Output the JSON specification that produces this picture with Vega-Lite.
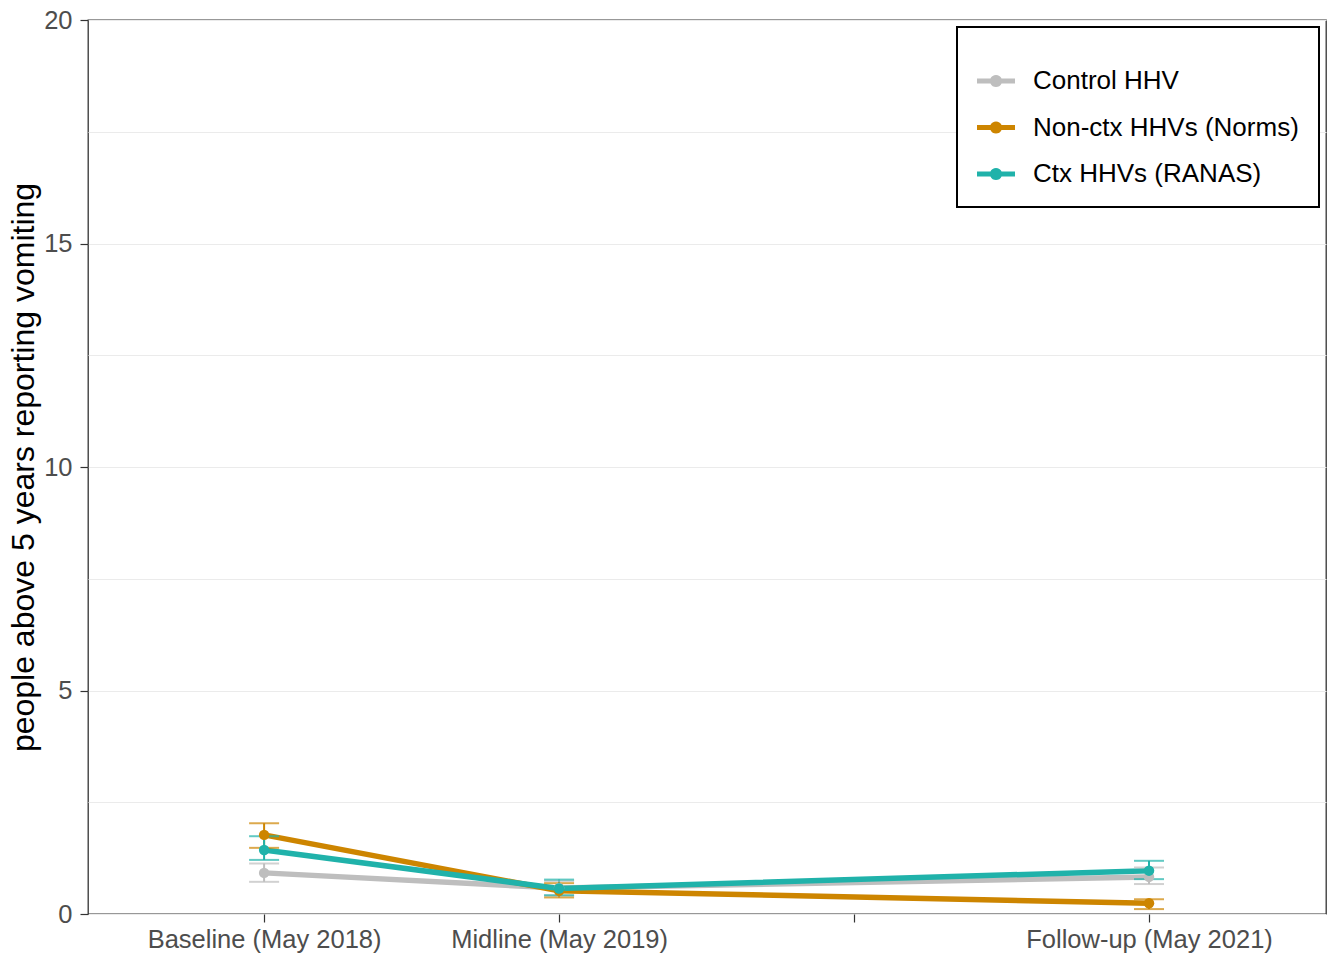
{
  "$schema": "https://vega.github.io/schema/vega-lite/v6.json",
  "width": 1238,
  "height": 894,
  "autosize": {"type": "none"},
  "padding": {"left": 88, "top": 20, "right": 3, "bottom": 41},
  "background": "white",
  "config": {
    "font": "Liberation Sans",
    "view": {"stroke": "#333333", "strokeWidth": 1.3},
    "axis": {
      "domain": false,
      "labelFont": "Liberation Sans",
      "labelFontSize": 25.5,
      "labelColor": "#4D4D4D",
      "labelLimit": 400,
      "tickColor": "#333333",
      "tickSize": 8,
      "tickWidth": 1.2,
      "labelPadding": 4,
      "titleFont": "Liberation Sans",
      "titleFontSize": 32,
      "titleFontWeight": "normal",
      "titleColor": "black"
    }
  },
  "data": {
    "values": [
      {"group": "Control HHV", "year": 2018, "mean": 0.92, "lo": 0.72, "hi": 1.13},
      {"group": "Control HHV", "year": 2019, "mean": 0.58, "lo": 0.41, "hi": 0.74},
      {"group": "Control HHV", "year": 2021, "mean": 0.83, "lo": 0.67, "hi": 1.04},
      {"group": "Non-ctx HHVs (Norms)", "year": 2018, "mean": 1.77, "lo": 1.48, "hi": 2.03},
      {"group": "Non-ctx HHVs (Norms)", "year": 2019, "mean": 0.52, "lo": 0.37, "hi": 0.69},
      {"group": "Non-ctx HHVs (Norms)", "year": 2021, "mean": 0.24, "lo": 0.11, "hi": 0.33},
      {"group": "Ctx HHVs (RANAS)", "year": 2018, "mean": 1.43, "lo": 1.21, "hi": 1.74},
      {"group": "Ctx HHVs (RANAS)", "year": 2019, "mean": 0.57, "lo": 0.42, "hi": 0.77},
      {"group": "Ctx HHVs (RANAS)", "year": 2021, "mean": 0.97, "lo": 0.78, "hi": 1.19}
    ]
  },
  "encoding": {
    "x": {
      "field": "year",
      "type": "quantitative",
      "scale": {"domain": [2017.403, 2021.6], "nice": false, "zero": false},
      "axis": {
        "title": null,
        "grid": false,
        "values": [2018, 2019, 2020, 2021],
        "labelFlush": false,
        "labelOverlap": false,
        "labelPadding": 5,
        "labelExpr": "datum.value == 2018 ? 'Baseline (May 2018)' : datum.value == 2019 ? 'Midline (May 2019)' : datum.value == 2021 ? 'Follow-up (May 2021)' : ''"
      }
    },
    "color": {
      "field": "group",
      "type": "nominal",
      "scale": {
        "domain": ["Control HHV", "Non-ctx HHVs (Norms)", "Ctx HHVs (RANAS)"],
        "range": ["#BEBEBE", "#CD8500", "#20B2AA"]
      },
      "legend": {
        "title": " ",
        "titleFontSize": 10,
        "titlePadding": 5,
        "orient": "top-right",
        "offset": 7,
        "padding": 20,
        "fillColor": "white",
        "strokeColor": "black",
        "symbolType": "M-1,-0.13H-0.2924A0.32,0.32,0,0,1,0.2924,-0.13H1V0.13H0.2924A0.32,0.32,0,0,1,-0.2924,0.13H-1Z",
        "symbolSize": 1444,
        "symbolStrokeWidth": 0,
        "symbolOpacity": 1,
        "labelFont": "Liberation Sans",
        "labelFontSize": 26,
        "labelColor": "black",
        "labelOffset": 18,
        "labelLimit": 500,
        "rowPadding": 14.5,
        "encode": {
          "legend": {"update": {"strokeWidth": {"value": 2}}},
          "symbols": {"update": {"fill": {"scale": "color", "field": "value"}, "opacity": {"value": 1}}}
        }
      }
    }
  },
  "layer": [
    {
      "mark": {"type": "line", "strokeWidth": 5.5},
      "encoding": {
        "y": {
          "field": "mean",
          "type": "quantitative",
          "scale": {"domain": [0, 20], "nice": false},
          "title": "people above 5 years reporting vomiting",
          "axis": {
            "values": [0, 2.5, 5, 7.5, 10, 12.5, 15, 17.5, 20],
            "labelExpr": "datum.value % 5 === 0 ? datum.label : ''",
            "tickOpacity": {"condition": {"test": "datum.value % 5 === 0", "value": 1}, "value": 0},
            "labelPadding": 8,
            "grid": true,
            "gridColor": "#EBEBEB",
            "gridWidth": 1.2,
            "titlePadding": 3
          }
        }
      }
    },
    {
      "mark": {"type": "rule", "strokeWidth": 2},
      "encoding": {
        "y": {"field": "lo", "type": "quantitative", "title": "people above 5 years reporting vomiting"},
        "y2": {"field": "hi"}
      }
    },
    {
      "mark": {"type": "tick", "orient": "horizontal", "size": 30, "thickness": 2},
      "encoding": {
        "y": {"field": "lo", "type": "quantitative", "title": "people above 5 years reporting vomiting"}
      }
    },
    {
      "mark": {"type": "tick", "orient": "horizontal", "size": 30, "thickness": 2},
      "encoding": {
        "y": {"field": "hi", "type": "quantitative", "title": "people above 5 years reporting vomiting"}
      }
    },
    {
      "mark": {"type": "point", "filled": true, "size": 110, "opacity": 1},
      "encoding": {
        "y": {"field": "mean", "type": "quantitative", "title": "people above 5 years reporting vomiting"}
      }
    }
  ]
}
